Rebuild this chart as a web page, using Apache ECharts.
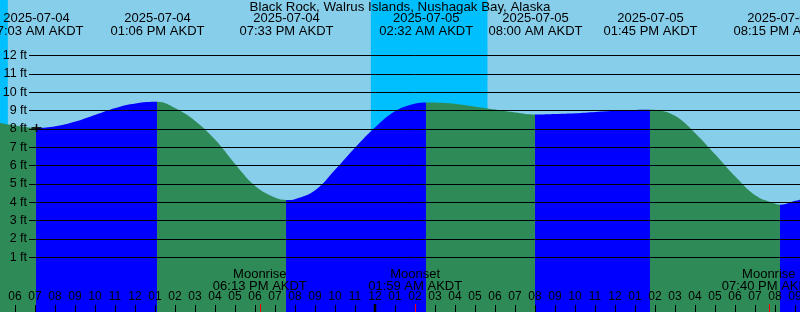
<!DOCTYPE html>
<html><head><meta charset="utf-8">
<script src="https://cdn.jsdelivr.net/npm/echarts@6/dist/echarts.min.js"></script>
<style>html,body{margin:0;padding:0;background:#87CEEB}#c{width:800px;height:312px}</style>
</head><body><div id="c"></div>
<script>
// ---------- data ----------
const chartTitle = 'Black Rock, Walrus Islands, Nushagak Bay, Alaska';
const tideTimes = ['2025-07-04 07:03','2025-07-04 13:06','2025-07-04 19:33','2025-07-05 02:32','2025-07-05 08:00','2025-07-05 13:45','2025-07-05 20:15'];
const tideTypes = ['L','H','L','H','L','H','L'];
const tideLevels = [8.03, 9.45, 4.10, 9.42, 8.76, 9.02, 3.85];
// curve readings (hours after 2025-07-04 00:00, feet)
const curveHours  = [5.225, 6, 8, 9, 10, 11, 12, 14, 15, 16, 17, 18, 19, 20, 21, 22, 23, 24, 25, 26, 27, 28, 29, 30, 31, 33, 34, 35, 36, 37, 38, 39, 40, 41, 42, 43, 44, 45, 45.225];
const curveLevels = [8.30, 8.16, 8.12, 8.38, 8.75, 9.12, 9.36, 9.10, 8.40, 7.37, 6.04, 4.85, 4.22, 4.16, 4.65, 5.78, 6.98, 8.08, 8.95, 9.36, 9.41, 9.34, 9.19, 9.03, 8.87, 8.79, 8.83, 8.90, 8.96, 9.01, 9.01, 8.68, 7.73, 6.57, 5.37, 4.35, 3.90, 4.06, 4.12];
const moonTimes = ['2025-07-04 18:13','2025-07-05 01:59','2025-07-05 19:40'];
const moonEvents = ['Moonrise','Moonset','Moonrise'];
const sunTimes = ['2025-07-04 05:37','2025-07-04 23:46','2025-07-05 05:36']; // sunrise, sunset, sunrise
const tickHours = [6,7,8,9,10,11,12,13,14,15,16,17,18,19,20,21,22,23,24,25,26,27,28,29,30,31,32,33,34,35,36,37,38,39,40,41,42,43,44,45];
const hourLabels = ['06','07','08','09','10','11','12','01','02','03','04','05','06','07','08','09','10','11','12','01','02','03','04','05','06','07','08','09','10','11','12','01','02','03','04','05','06','07','08','09'];
const ftLabels = ['1 ft','2 ft','3 ft','4 ft','5 ft','6 ft','7 ft','8 ft','9 ft','10 ft','11 ft','12 ft'];

// ---------- helpers ----------
const startHour = 5.225, spanHours = 40;
const FONT = '"Liberation Sans", Arial, sans-serif';
const GREEN = '#2E8B57', BLUE = '#0000FF', NIGHT = '#00BFFF';
function toHours(s){ const [d,t]=s.split(' '); const day=Number(d.slice(8,10))-4; const [hh,mm]=t.split(':').map(Number); return day*24+hh+mm/60; }
function pad2(n){ return (n<10?'0':'')+n; }
function fmtTime(s){ const t=s.split(' ')[1]; const hh=Number(t.slice(0,2)); return pad2(hh%12||12)+':'+t.slice(3,5)+(hh<12?' AM':' PM')+' AKDT'; }

const tideHours = tideTimes.map(toHours);
const moonHours = moonTimes.map(toHours);
const sunHours = sunTimes.map(toHours);

const curve = curveHours.map((h,i)=>[h,curveLevels[i]]).concat(tideHours.map((h,i)=>[h,tideLevels[i]])).sort((a,b)=>a[0]-b[0]);

const pieces = [];
tideHours.forEach((h,i)=>{
  const p = {lt: h, color: tideTypes[i]==='L' ? GREEN : BLUE};
  if (i>0) p.gte = tideHours[i-1];
  pieces.push(p);
});
pieces.push({gte: tideHours[tideHours.length-1], color: tideTypes[tideTypes.length-1]==='L' ? BLUE : GREEN});

const midnights = tickHours.filter(h=>h%24===0);
const textBase = {align: 'center', verticalAlign: 'middle', textAlign: 'center', textVerticalAlign: 'middle', fill: '#000', fontSize: 13, fontFamily: FONT};

const chart = echarts.init(document.getElementById('c'), null, {renderer:'canvas'});
chart.setOption({
  animation: false,
  backgroundColor: '#87CEEB',
  title: {text: chartTitle, left: 'center', top: 0, padding: [1,0,0,0],
    textStyle: {fontSize: 13.3, fontWeight: 'normal', color: '#000', fontFamily: FONT}},
  grid: [
    {left: 0, right: 0, top: 0, bottom: 0, containLabel: false, outerBoundsMode: 'none'},
    {left: 29, right: 0, top: 55.5, bottom: 54.8, containLabel: false, outerBoundsMode: 'none'}
  ],
  xAxis: [
    {type: 'value', gridIndex: 0, min: startHour, max: startHour + spanHours, z: 5,
      axisLine: {show: false, onZero: false}, splitLine: {show: false},
      axisTick: {show: true, inside: true, length: 7, customValues: tickHours, lineStyle: {color: '#000', width: 1}},
      axisLabel: {show: false}},
    {type: 'value', gridIndex: 1, min: 0, max: 1, show: false}
  ],
  yAxis: [
    {type: 'value', gridIndex: 0, min: -2, max: 15, show: false},
    {type: 'value', gridIndex: 1, min: 1, max: 12, interval: 1, z: 5,
      axisLine: {show: false}, axisTick: {show: false},
      splitLine: {show: true, lineStyle: {color: '#000', width: 1}},
      axisLabel: {margin: 2, formatter: v => ftLabels[v-1], color: '#000', fontSize: 12.5, fontFamily: FONT}}
  ],
  visualMap: {type: 'piecewise', show: false, dimension: 0, seriesIndex: 0, pieces: pieces},
  series: [
    {type: 'line', xAxisIndex: 0, yAxisIndex: 0, data: curve, smooth: 0.4, symbol: 'none', z: 2,
      lineStyle: {width: 0}, areaStyle: {opacity: 1, origin: 'start'}, silent: true},
    {type: 'line', xAxisIndex: 0, yAxisIndex: 0, data: [], z: 1, silent: true,
      markArea: {silent: true, z: 1, itemStyle: {color: NIGHT, opacity: 1, borderWidth: 0},
        data: [[{xAxis: startHour}, {xAxis: sunHours[0]}], [{xAxis: sunHours[1]}, {xAxis: sunHours[2]}]]}},
    {type: 'custom', xAxisIndex: 0, yAxisIndex: 0, z: 10, silent: true,
      data: [[tideHours[0], tideLevels[0]]],
      renderItem: (params, api) => {
        const p = api.coord([api.value(0), api.value(1)]);
        const st = {stroke: '#000', lineWidth: 1.5};
        return {type: 'group', children: [
          {type: 'line', shape: {x1: p[0]-5, y1: p[1], x2: p[0]+5, y2: p[1]}, style: st},
          {type: 'line', shape: {x1: p[0], y1: p[1]-4, x2: p[0], y2: p[1]+4}, style: st}
        ]};
      }},
    {type: 'custom', xAxisIndex: 0, yAxisIndex: 0, z: 10, silent: true,
      data: tideHours.map((h,i)=>[h, tideLevels[i]]),
      renderItem: (params, api) => {
        const i = params.dataIndex;
        const x = api.coord([api.value(0), 0])[0];
        return {type: 'group', children: [
          {type: 'text', style: Object.assign({text: tideTimes[i].split(' ')[0], x: x, y: 18.5}, textBase)},
          {type: 'text', style: Object.assign({text: fmtTime(tideTimes[i]), x: x, y: 31}, textBase)}
        ]};
      }},
    {type: 'custom', xAxisIndex: 0, yAxisIndex: 0, z: 10, silent: true,
      data: moonHours.map(h=>[h, -2]),
      renderItem: (params, api) => {
        const i = params.dataIndex;
        const p = api.coord([api.value(0), api.value(1)]);
        const x = p[0];
        const xt = Math.round(x) + 0.5;
        return {type: 'group', children: [
          {type: 'text', style: Object.assign({text: moonEvents[i], x: x, y: 274}, textBase)},
          {type: 'text', style: Object.assign({text: fmtTime(moonTimes[i]), x: x, y: 286}, textBase)},
          {type: 'line', shape: {x1: xt, y1: p[1]-8, x2: xt, y2: p[1]}, style: {stroke: '#FF0000', lineWidth: 1}}
        ]};
      }},
    {type: 'custom', xAxisIndex: 0, yAxisIndex: 0, z: 9, silent: true,
      data: tickHours.map(h=>[h, -2]),
      renderItem: (params, api) => {
        const p = api.coord([api.value(0), api.value(1)]);
        return {type: 'text', style: Object.assign({}, textBase, {text: hourLabels[params.dataIndex], x: p[0] - 0.5, y: 297, fontSize: 12})};
      }},
    {type: 'custom', xAxisIndex: 0, yAxisIndex: 0, z: 9, silent: true,
      data: midnights.map(h=>[h, -2]),
      renderItem: (params, api) => {
        const p = api.coord([api.value(0), api.value(1)]);
        return {type: 'line', shape: {x1: p[0]-0.5, y1: p[1]-8, x2: p[0]-0.5, y2: p[1]}, style: {stroke: '#000', lineWidth: 2.5}};
      }}
  ]
});
</script></body></html>
